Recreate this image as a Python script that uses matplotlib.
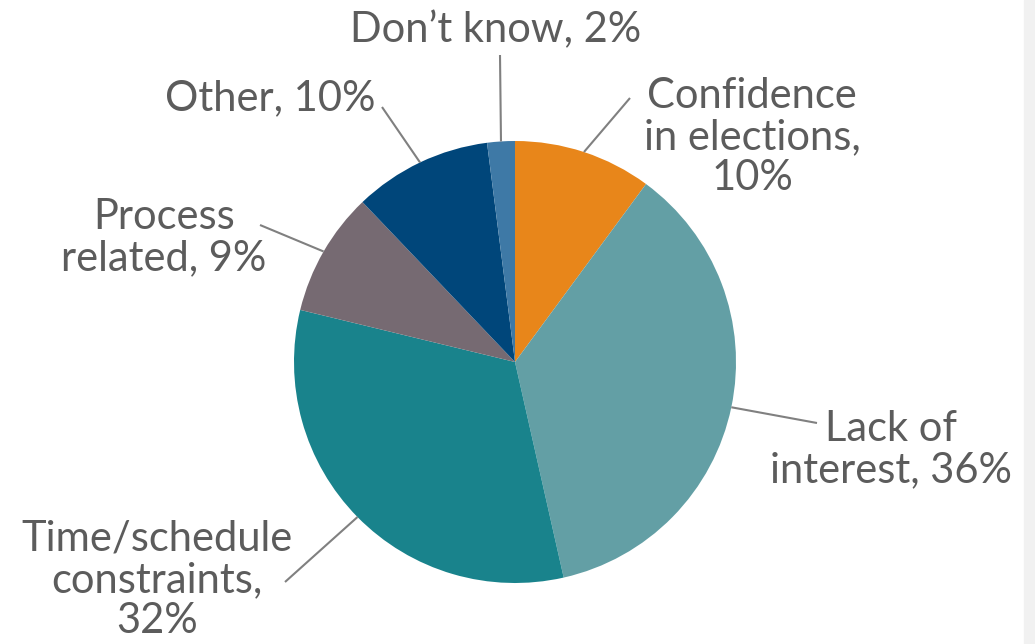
import numpy as np
import matplotlib.pyplot as plt
from matplotlib.patches import Rectangle

labels = ['Confidence\nin elections,\n10%', 'Lack of\ninterest, 36%',
          'Time/schedule\nconstraints,\n32%', 'Process\nrelated, 9%',
          'Other, 10%', "Don\u2019t know, 2%"]
values = [10, 36, 32, 9, 10, 2]
colors = ['#E8861A', '#639FA5', '#19838C', '#766A72', '#00467A', '#3E79A6']

# label text centres and leader line ends, in image pixels (y down)
text_pos = [(752, 137), (891, 450), (157, 580), (164, 238), (270, 98), (496, 30)]
line_end = [(630, 98), (817, 423), (285, 582), (260, 225), (382, 107), (500, 55)]

W, H = 1035, 644
cx, cy, r = 515, 362, 221

fig = plt.figure(figsize=(W / 100, H / 100), dpi=100)
ax = fig.add_axes([0, 0, 1, 1])

wedges, _ = ax.pie(values, colors=colors, startangle=90, counterclock=False,
                   center=(cx, H - cy), radius=r,
                   wedgeprops=dict(linewidth=0, antialiased=True))
ax.set_xlim(0, W)
ax.set_ylim(0, H)
ax.set_aspect('equal')
ax.axis('off')

for w, lab, (tx, ty), (ex, ey) in zip(wedges, labels, text_pos, line_end):
    mid = np.deg2rad((w.theta1 + w.theta2) / 2)
    sx = cx + r * np.cos(mid)
    sy = (H - cy) + r * np.sin(mid)
    ax.plot([sx, ex], [sy, H - ey], color='#808080', lw=1.5, solid_capstyle='butt')
    ax.text(tx, H - ty, lab, ha='center', va='center', fontsize=30,
            family='Lato', color='#5c5c5c', linespacing=1.1)

fig.patches.append(Rectangle((1024 / W, 0), 11 / W, 1, transform=fig.transFigure,
                             color='#f1f1f1', zorder=-1))

fig.savefig('out.png', dpi=100)
